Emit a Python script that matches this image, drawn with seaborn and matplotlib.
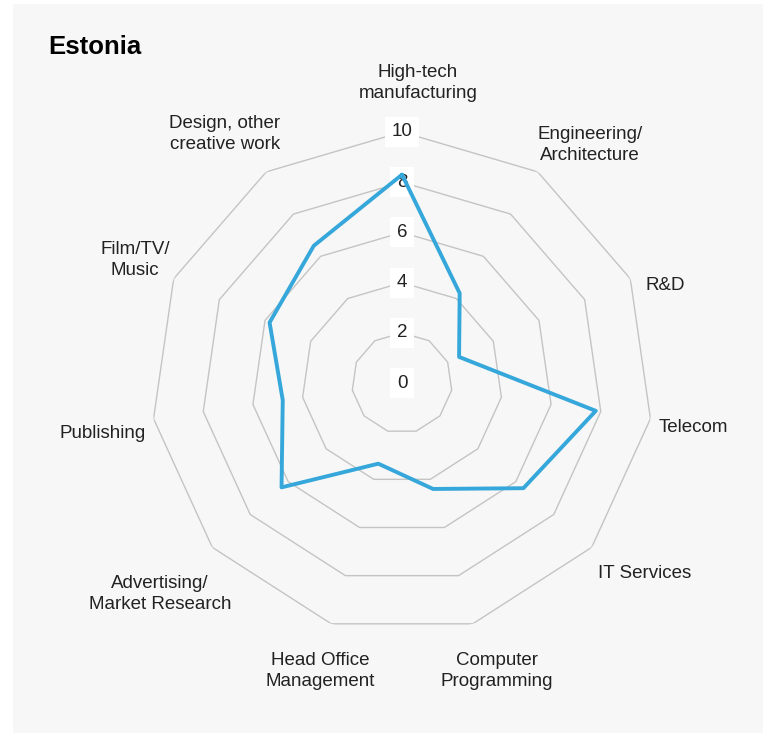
import numpy as np
import pandas as pd
import matplotlib
matplotlib.use("Agg")
import matplotlib.pyplot as plt
import seaborn as sns
from matplotlib.patches import Rectangle

sns.set_style("white")
plt.rcParams['font.family'] = ['Liberation Sans', 'DejaVu Sans']

# ---- data ----
categories = ["High-tech\nmanufacturing", "Engineering/\nArchitecture", "R&D", "Telecom",
              "IT Services", "Computer\nProgramming", "Head Office\nManagement",
              "Advertising/\nMarket Research", "Publishing", "Film/TV/\nMusic",
              "Design, other\ncreative work"]
values = [8.3, 4.25, 2.5, 7.8, 6.4, 4.4, 3.35, 6.35, 4.8, 5.8, 6.5]
ring_levels = [2, 4, 6, 8, 10]
tick_labels = ["0", "2", "4", "6", "8", "10"]
title = "Estonia"

# ---- layout ----
W, H = 769, 733
fig = plt.figure(figsize=(W / 100, H / 100), dpi=100)
fig.patch.set_facecolor("white")
fig.patches.append(Rectangle((13 / W, 0), (763 - 13) / W, (H - 4) / H,
                             transform=fig.transFigure, facecolor="#f7f7f7",
                             edgecolor="none", zorder=-5))

cx, cy, R = 402, 383, 251
ax = fig.add_axes([(cx - R) / W, (H - cy - R) / H, 2 * R / W, 2 * R / H], projection="polar")
ax.set_zorder(2)
ax.set_facecolor("none")
ax.set_theta_offset(np.pi / 2)
ax.set_theta_direction(-1)
ax.grid(False)
ax.spines["polar"].set_visible(False)

n = len(categories)
angles = np.linspace(0, 2 * np.pi, n, endpoint=False)
closed_angles = np.append(angles, 2 * np.pi)

for lv in ring_levels:
    ax.plot(closed_angles, [lv] * (n + 1), color="#c4c4c4", lw=1.0, zorder=1)

for i, t in enumerate(tick_labels):
    ax.text(0, 2 * i, t, ha="center", va="center", fontsize=13.5, color="#222222",
            zorder=3, bbox=dict(boxstyle="square,pad=0.35", fc="white", ec="none"))

df = pd.DataFrame({"theta": closed_angles,
                   "value": values + [values[0]]})
sns.lineplot(data=df, x="theta", y="value", sort=False, estimator=None, ax=ax,
             color="#36a7da", lw=2.8, zorder=4)
ax.set_xlabel("")
ax.set_ylabel("")
ax.set_xticks([])
ax.set_yticks([])
ax.set_ylim(0, 10)

# category labels (pixel positions of text centres)
label_pos = [(418, 83), (590, 145), (665, 285), (693, 428), (645, 573), (497, 671),
             (320, 671), (160, 594), (103, 433), (135, 260), (225, 134)]
for lab, (px, py) in zip(categories, label_pos):
    fig.text(px / W, 1 - py / H, lab, ha="center", va="center", fontsize=13.5,
             color="#222222", linespacing=1.3)

fig.text(48 / W, 1 - 47 / H, title, ha="left", va="center", fontsize=18.5,
         fontweight="bold", color="black")

fig.savefig("out.png", dpi=100, facecolor="white")
